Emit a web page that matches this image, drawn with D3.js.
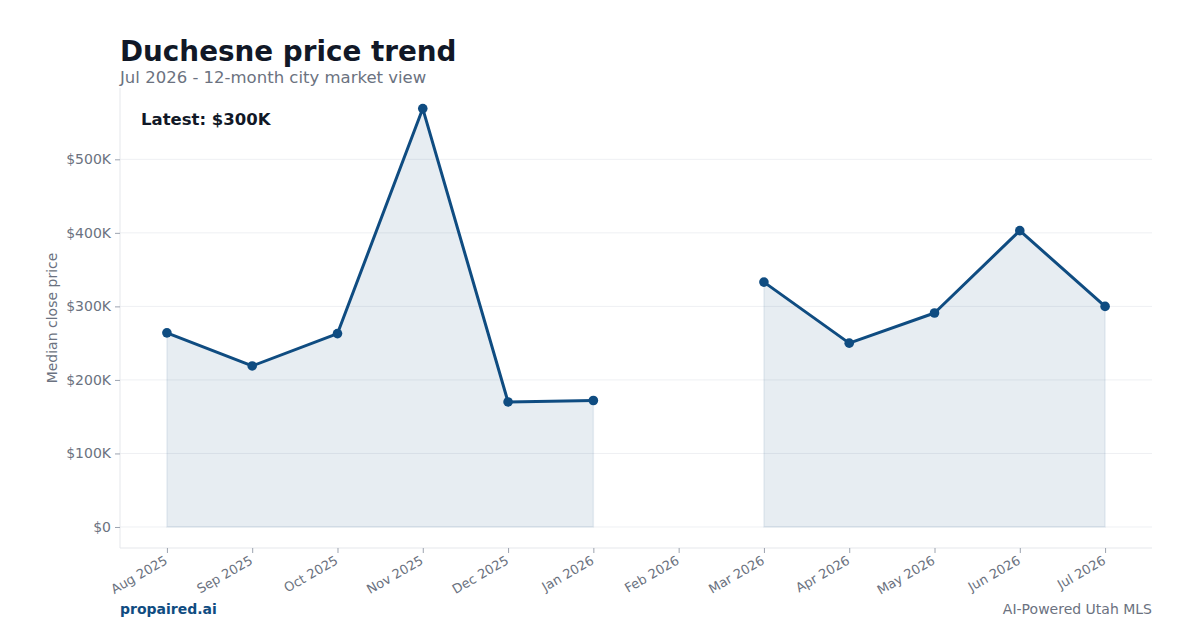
<!DOCTYPE html>
<html><head><meta charset="utf-8">
<script src="https://cdn.jsdelivr.net/npm/d3@7"></script>
<style>
html,body{margin:0;padding:0;background:#fff;}
svg{display:block;font-family:"DejaVu Sans",sans-serif;}
</style></head>
<body>
<svg id="c" width="1200" height="630"></svg>
<script>
const months = ["Aug 2025","Sep 2025","Oct 2025","Nov 2025","Dec 2025","Jan 2026","Feb 2026","Mar 2026","Apr 2026","May 2026","Jun 2026","Jul 2026"];
const prices = [264000,219000,263000,569000,170000,172000,null,333000,250000,291000,403000,300000];
const yTicks = [0,100000,200000,300000,400000,500000];
const yTickLabels = ["$0","$100K","$200K","$300K","$400K","$500K"];
const title = "Duchesne price trend";
const subtitle = "Jul 2026 - 12-month city market view";
const latestLabel = "Latest: $300K";

const svg = d3.select("#c");
const L = 120, R = 1152, T = 88, B = 548;
const lineColor = "#0f4c81";

const x = d3.scalePoint().domain(months).range([L, R]).padding(0.55);
const y = d3.scaleLinear().domain([-28600, 597000]).range([B, T]);

// grid
svg.append("g").selectAll("line").data(yTicks).join("line")
  .attr("x1", L).attr("x2", R).attr("y1", d=>y(d)).attr("y2", d=>y(d))
  .attr("stroke", "#eef0f3").attr("stroke-width", 1);

// axes lines
svg.append("line").attr("x1", L).attr("x2", L).attr("y1", T).attr("y2", B).attr("stroke", "#e5e7eb");
svg.append("line").attr("x1", L).attr("x2", R).attr("y1", B).attr("y2", B).attr("stroke", "#e5e7eb");

// y axis
const yAxis = d3.axisLeft(y).tickValues(yTicks).tickFormat((d,i)=>yTickLabels[i]).tickSize(5).tickPadding(4);
const gy = svg.append("g").attr("transform", `translate(${L},0)`).call(yAxis);
gy.select(".domain").remove();
gy.selectAll(".tick line").attr("stroke", "#9ca3af");
gy.selectAll(".tick text").attr("fill", "#6b7280").style("font-size", "14px").style("font-family", "DejaVu Sans");

// x axis
const xAxis = d3.axisBottom(x).tickSize(5).tickPadding(4);
const gx = svg.append("g").attr("transform", `translate(0,${B})`).call(xAxis);
gx.select(".domain").remove();
gx.selectAll(".tick line").attr("stroke", "#9ca3af");
gx.selectAll(".tick text").attr("fill", "#6b7280").style("font-size", "13px").style("font-family", "DejaVu Sans")
  .attr("text-anchor", "end").attr("dy", null).attr("y", 0)
  .attr("transform", "translate(1,15) rotate(-30)");

// data
const data = months.map((m,i)=>({m, v: prices[i]}));
const defined = d => d.v !== null;

const area = d3.area().defined(defined).x(d=>x(d.m)).y0(y(0)).y1(d=>y(d.v));
svg.append("path").datum(data).attr("d", area)
  .attr("fill", "rgba(15,76,129,0.1)").attr("stroke", "rgba(15,76,129,0.08)").attr("stroke-width", 1.5);

const line = d3.line().defined(defined).x(d=>x(d.m)).y(d=>y(d.v));
svg.append("path").datum(data).attr("d", line)
  .attr("fill", "none").attr("stroke", lineColor).attr("stroke-width", 3).attr("stroke-linejoin", "round");

svg.append("g").selectAll("circle").data(data.filter(defined)).join("circle")
  .attr("cx", d=>x(d.m)).attr("cy", d=>y(d.v)).attr("r", 4.8).attr("fill", lineColor);

// titles
svg.append("text").attr("x", 120).attr("y", 61).text(title)
  .attr("fill", "#111827").style("font-size", "27.8px").style("font-weight", "bold");
svg.append("text").attr("x", 120).attr("y", 83).text(subtitle)
  .attr("fill", "#6b7280").style("font-size", "16.5px");
svg.append("text").attr("x", 141).attr("y", 125).text(latestLabel)
  .attr("fill", "#111827").style("font-size", "16.5px").style("font-weight", "bold");

// y title
svg.append("text").attr("transform", "translate(57,318) rotate(-90)").attr("text-anchor", "middle")
  .text("Median close price").attr("fill", "#6b7280").style("font-size", "14px");

// footer
svg.append("text").attr("x", 120).attr("y", 614).text("propaired.ai")
  .attr("fill", lineColor).style("font-size", "14px").style("font-weight", "bold");
svg.append("text").attr("x", 1152).attr("y", 614).attr("text-anchor", "end").text("AI-Powered Utah MLS")
  .attr("fill", "#6b7280").style("font-size", "14px");
</script>
</body></html>
